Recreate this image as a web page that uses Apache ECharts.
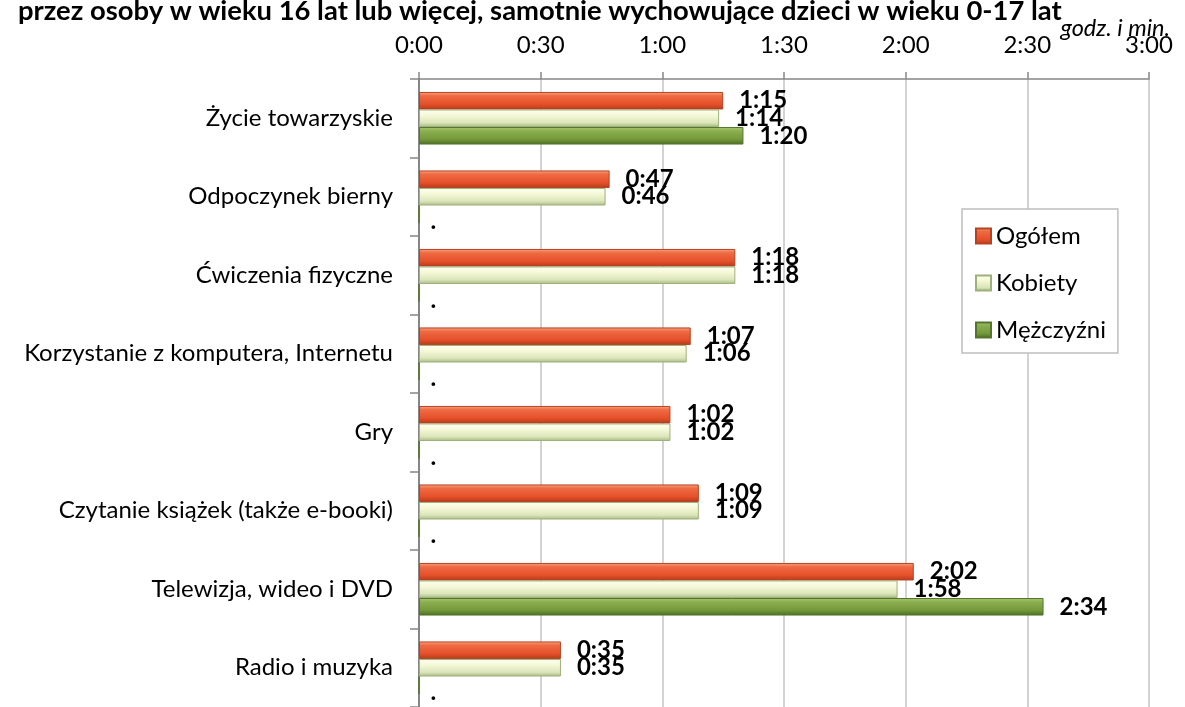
<!DOCTYPE html>
<html>
<head>
<meta charset="utf-8">
<script src="https://cdn.jsdelivr.net/npm/echarts@6/dist/echarts.min.js"></script>
<style>
  html, body { margin: 0; padding: 0; background: #fff; }
  #chart { width: 1185px; height: 707px; }
</style>
</head>
<body>
<div id="chart"></div>
<script>
// Leisure activities — average time per day (minutes)
const categories = [
  'Życie towarzyskie',
  'Odpoczynek bierny',
  'Ćwiczenia fizyczne',
  'Korzystanie z komputera, Internetu',
  'Gry',
  'Czytanie książek (także e-booki)',
  'Telewizja, wideo i DVD',
  'Radio i muzyka'
];
const seriesNames = ['Ogółem', 'Kobiety', 'Mężczyźni'];
const totalMinutes = [75, 47, 78, 67, 62, 69, 122, 35];
const womenMinutes = [74, 46, 78, 66, 62, 69, 118, 35];
// null = no data, printed as "."
const menMinutes = [80, null, null, null, null, null, 154, null];
const axisTickLabels = ['0:00', '0:30', '1:00', '1:30', '2:00', '2:30', '3:00'];

const FONT = 'Lato, "Open Sans", sans-serif';

function hm(min) {
  return Math.floor(min / 60) + ':' + String(min % 60).padStart(2, '0');
}

function grad(stops) {
  return new echarts.graphic.LinearGradient(0, 0, 0, 1,
    stops.map(s => ({ offset: s[0], color: s[1] })));
}

const styles = [
  { color: grad([[0, '#F6A586'], [0.22, '#EF6B43'], [0.7, '#E5502A'], [1, '#B43B1B']]), borderColor: '#B8421F' },
  { color: grad([[0, '#FFFFF2'], [0.35, '#F5F8D6'], [0.75, '#DBE5BA'], [1, '#A8B983']]), borderColor: '#9EB07B' },
  { color: grad([[0, '#A9C772'], [0.25, '#88AE4E'], [0.7, '#73993B'], [1, '#4C6B25']]), borderColor: '#56752C' }
];

function toData(arr) {
  return arr.map(v => v === null
    ? { value: 0, label: { formatter: '.', distance: 9, offset: [2, 7] } }
    : { value: v });
}

const values = [totalMinutes, womenMinutes, menMinutes];

const chart = echarts.init(document.getElementById('chart'), null, { renderer: 'canvas' });

chart.setOption({
  backgroundColor: '#ffffff',
  animation: false,
  textStyle: { fontFamily: FONT },
  title: {
    text: 'przez osoby w wieku 16 lat lub więcej, samotnie wychowujące dzieci w wieku 0-17 lat',
    left: 13,
    top: -7,
    textStyle: { fontFamily: FONT, fontSize: 27.4, fontWeight: 'bold', color: '#000' }
  },
  graphic: [{
    type: 'text',
    right: 15,
    top: 17,
    style: { text: 'godz. i min.', font: 'italic 23.5px ' + FONT, fill: '#000' }
  }],
  legend: {
    orient: 'vertical',
    left: 962,
    top: 209,
    padding: [15, 12, 11, 13],
    itemGap: 23,
    itemWidth: 15,
    itemHeight: 15,
    icon: 'rect',
    backgroundColor: '#ffffff',
    borderColor: '#bfbfbf',
    borderWidth: 1.5,
    textStyle: { fontFamily: FONT, fontSize: 24, color: '#000', lineHeight: 24 },
    data: seriesNames
  },
  grid: { left: 419, right: 36, top: 79, bottom: -8, containLabel: false },
  xAxis: {
    type: 'value',
    position: 'top',
    min: 0,
    max: 180,
    interval: 30,
    axisLine: { show: true, lineStyle: { color: '#868686', width: 1.5 } },
    axisTick: { show: true, length: 7, lineStyle: { color: '#868686', width: 1.5 } },
    axisLabel: {
      fontFamily: FONT, fontSize: 24, color: '#000', margin: 22,
      formatter: v => axisTickLabels[Math.round(v / 30)]
    },
    splitLine: { show: true, lineStyle: { color: '#c4c4c4', width: 1.5 } }
  },
  yAxis: {
    type: 'category',
    inverse: true,
    data: categories,
    axisLine: { show: true, lineStyle: { color: '#868686', width: 2 } },
    axisTick: { show: true, length: 9, lineStyle: { color: '#868686', width: 1.5 } },
    axisLabel: { fontFamily: FONT, fontSize: 24, color: '#000', margin: 26 }
  },
  series: seriesNames.map((name, i) => ({
    name,
    type: 'bar',
    data: toData(values[i]),
    barGap: '0%',
    barCategoryGap: '33%',
    itemStyle: { color: styles[i].color, borderColor: styles[i].borderColor, borderWidth: 1 },
    label: {
      show: true,
      position: 'right',
      distance: 16,
      fontFamily: FONT,
      fontSize: 24,
      fontWeight: 'bold',
      color: '#000',
      formatter: p => hm(p.value)
    }
  }))
});
</script>
</body>
</html>
